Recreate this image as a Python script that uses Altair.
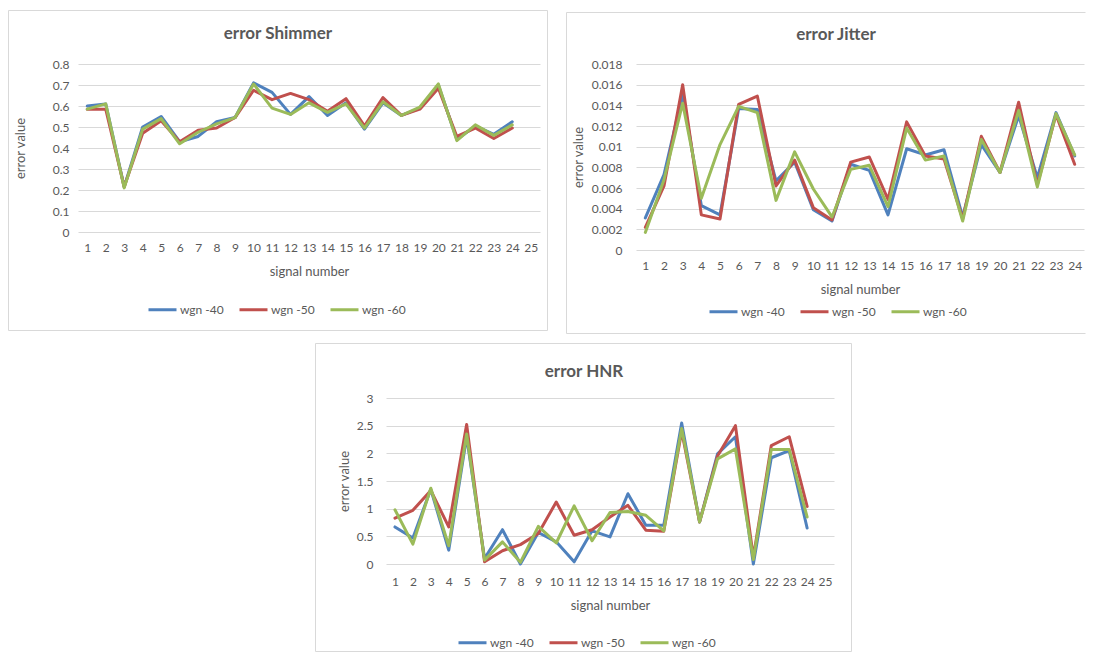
import altair as alt
import pandas as pd

# ---------------- data ----------------
series_names = ["wgn -40", "wgn -50", "wgn -60"]
series_colors = ["#4F81BD", "#C0504D", "#9BBB59"]
signals = list(range(1, 25))

shimmer_wgn40 = [0.600, 0.610, 0.215, 0.500, 0.550, 0.430, 0.455, 0.525, 0.545, 0.710, 0.665, 0.560,
                 0.645, 0.555, 0.615, 0.490, 0.615, 0.555, 0.590, 0.700, 0.440, 0.505, 0.465, 0.525]
shimmer_wgn50 = [0.585, 0.585, 0.215, 0.470, 0.530, 0.430, 0.485, 0.495, 0.545, 0.675, 0.630, 0.660,
                 0.630, 0.575, 0.635, 0.505, 0.640, 0.555, 0.585, 0.685, 0.455, 0.495, 0.445, 0.495]
shimmer_wgn60 = [0.585, 0.610, 0.210, 0.490, 0.540, 0.420, 0.475, 0.515, 0.545, 0.705, 0.590, 0.560,
                 0.615, 0.570, 0.610, 0.495, 0.620, 0.555, 0.595, 0.705, 0.435, 0.510, 0.460, 0.510]

jitter_wgn40 = [0.0031, 0.0073, 0.0151, 0.0043, 0.0034, 0.0137, 0.0136, 0.0067, 0.0085, 0.0039, 0.0028, 0.0083,
                0.0077, 0.0034, 0.0098, 0.0092, 0.0097, 0.0032, 0.0102, 0.0075, 0.0130, 0.0070, 0.0133, 0.0091]
jitter_wgn50 = [0.0022, 0.0062, 0.0160, 0.0034, 0.0030, 0.0141, 0.0149, 0.0062, 0.0087, 0.0041, 0.0029, 0.0085,
                0.0090, 0.0049, 0.0124, 0.0091, 0.0088, 0.0030, 0.0110, 0.0075, 0.0143, 0.0063, 0.0131, 0.0083]
jitter_wgn60 = [0.0017, 0.0068, 0.0142, 0.0050, 0.0102, 0.0139, 0.0133, 0.0048, 0.0095, 0.0059, 0.0032, 0.0078,
                0.0082, 0.0042, 0.0118, 0.0087, 0.0091, 0.0028, 0.0107, 0.0075, 0.0135, 0.0061, 0.0132, 0.0092]

hnr_wgn40 = [0.67, 0.47, 1.35, 0.25, 2.30, 0.10, 0.62, 0.00, 0.57, 0.40, 0.04, 0.60,
             0.49, 1.27, 0.70, 0.70, 2.55, 0.76, 1.99, 2.30, 0.00, 1.92, 2.05, 0.65]
hnr_wgn50 = [0.83, 0.97, 1.33, 0.67, 2.52, 0.04, 0.24, 0.35, 0.55, 1.12, 0.52, 0.62,
             0.85, 1.06, 0.61, 0.59, 2.40, 0.76, 1.95, 2.50, 0.12, 2.14, 2.30, 1.04]
hnr_wgn60 = [0.98, 0.36, 1.37, 0.33, 2.35, 0.07, 0.40, 0.03, 0.68, 0.38, 1.05, 0.42,
             0.93, 0.95, 0.88, 0.60, 2.45, 0.76, 1.90, 2.08, 0.08, 2.07, 2.07, 0.85]

shimmer_ticks = [0, 0.1, 0.2, 0.3, 0.4, 0.5, 0.6, 0.7, 0.8]
jitter_ticks = [0, 0.002, 0.004, 0.006, 0.008, 0.01, 0.012, 0.014, 0.016, 0.018]
hnr_ticks = [0, 0.5, 1, 1.5, 2, 2.5, 3]
x25 = list(range(1, 26))
x24 = list(range(1, 25))

# ---------------- style ----------------
FONT = "Lato"
TEXT = "#595959"
GRID = "#D9D9D9"
FRAME = "#D9D9D9"


def long_df(a, b, c):
    rows = []
    for name, vals in zip(series_names, (a, b, c)):
        for s, v in zip(signals, vals):
            rows.append({"signal": s, "value": v, "series": name})
    return pd.DataFrame(rows)


ONE = pd.DataFrame({"k": [0]})


def frame(x0, x1, y0, y1, right=True):
    base = alt.Chart(ONE).mark_rule(color=FRAME, strokeWidth=1)
    parts = [
        base.encode(x=alt.value(x0 + 0.5), x2=alt.value(x1 - 0.5), y=alt.value(y0 + 0.5)),
        base.encode(x=alt.value(x0 + 0.5), x2=alt.value(x1 - 0.5), y=alt.value(y1 - 0.5)),
        base.encode(x=alt.value(x0 + 0.5), y=alt.value(y0 + 0.5), y2=alt.value(y1 - 0.5)),
    ]
    if right:
        parts.append(base.encode(x=alt.value(x1 - 0.5), y=alt.value(y0 + 0.5), y2=alt.value(y1 - 0.5)))
    return parts


def panel(title, df, x_domain, y_max, y_ticks, y_fmt, w, h, fr, right, tpos,
          ylab_pad, ytitle_x, xlab_pad, xtitle_y, leg):
    x = alt.X(
        "signal:O",
        scale=alt.Scale(type="point", padding=0.5, domain=x_domain),
        axis=alt.Axis(title="signal number", labelAngle=0, ticks=False, domain=False, grid=False,
                      labelOverlap=False, labelPadding=xlab_pad, labelFont=FONT, labelFontSize=12,
                      labelColor=TEXT, titleFont=FONT, titleFontSize=13, titleFontWeight="normal",
                      titleColor=TEXT, titleX=w / 2, titleY=xtitle_y, titleAlign="center",
                      titleBaseline="middle"),
    )
    y = alt.Y(
        "value:Q",
        scale=alt.Scale(domain=[0, y_max], nice=False, zero=True),
        axis=alt.Axis(title="error value", values=y_ticks, format=y_fmt, ticks=False, domain=False,
                      grid=True, gridColor=GRID, gridWidth=1, labelPadding=ylab_pad, labelFont=FONT,
                      labelFontSize=12, labelColor=TEXT, labelOverlap=False, titleFont=FONT,
                      titleFontSize=13, titleFontWeight="normal", titleColor=TEXT, titleAngle=270,
                      titleX=ytitle_x, titleY=h / 2, titleAlign="center", titleBaseline="middle"),
    )
    color = alt.Color(
        "series:N",
        scale=alt.Scale(domain=series_names, range=series_colors),
        legend=alt.Legend(title=None, orient="none", legendX=leg[0], legendY=leg[1],
                          direction="horizontal", symbolType="stroke", symbolSize=784,
                          symbolStrokeWidth=3, labelFont=FONT, labelFontSize=12, labelColor=TEXT,
                          columnPadding=9, labelOffset=2, padding=0),
    )
    lines = alt.Chart(df).mark_line(strokeWidth=3, strokeJoin="round", strokeCap="round").encode(
        x=x, y=y, color=color)
    ttl = alt.Chart(ONE).mark_text(text=title, font=FONT, fontSize=17, fontWeight="bold", color=TEXT,
                                   align="center", baseline="middle").encode(
        x=alt.value(tpos[0]), y=alt.value(tpos[1]))
    return alt.layer(*frame(*fr, right=right), lines, ttl).properties(width=w, height=h)


shimmer = panel("error Shimmer", long_df(shimmer_wgn40, shimmer_wgn50, shimmer_wgn60), x25, 0.8,
                shimmer_ticks, ".1~f", 462, 168, (-70, 470, -54, 267), True, (200, -30),
                9, -58, 10, 39, (69, 230))
jitter = panel("error Jitter", long_df(jitter_wgn40, jitter_wgn50, jitter_wgn60), x24, 0.018,
               jitter_ticks, ".3~f", 448, 186, (-70, 450, -52, 270), False, (200, -29),
               14, -58, 10, 39, (72, 232))
hnr = panel("error HNR", long_df(hnr_wgn40, hnr_wgn50, hnr_wgn60), x25, 3,
            hnr_ticks, ".1~f", 448, 166, (-71, 466, -55, 254), True, (198, -26),
            13, -42, 12, 41, (71, 229))

spacer = alt.Chart(ONE).mark_point(opacity=0).encode(x=alt.value(0), y=alt.value(0)).properties(
    width=229, height=10)

top = alt.hconcat(shimmer, jitter, spacing=18).resolve_scale(color="independent").resolve_legend(
    color="independent")
bottom = alt.hconcat(spacer, hnr, spacing=8).resolve_scale(color="independent").resolve_legend(
    color="independent")

chart = alt.vconcat(top, bottom, spacing=9).resolve_scale(color="independent").resolve_legend(
    color="independent").properties(
    padding={"left": 0, "top": 2, "right": 0, "bottom": 0},
    background="white",
).configure_view(strokeWidth=0)

chart.save("out.html", embed_options={"renderer": "svg", "actions": False})
